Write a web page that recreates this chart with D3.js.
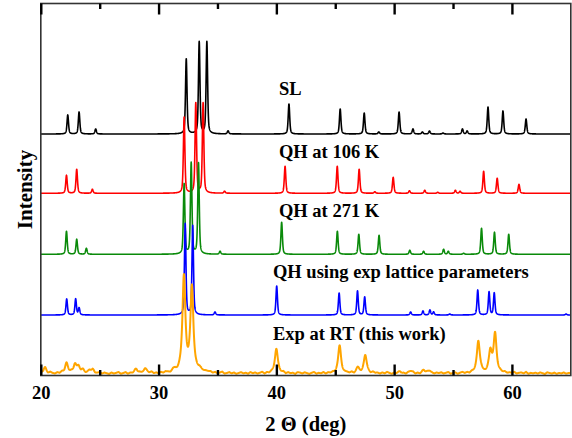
<!DOCTYPE html>
<html>
<head>
<meta charset="utf-8">
<script src="https://cdn.jsdelivr.net/npm/d3@7"></script>
<style>
  body { margin: 0; background: #fff; }
  text { font-family: "Liberation Serif", "Times New Roman", serif; font-weight: bold; }
</style>
</head>
<body>
<svg id="chart" width="572" height="438"></svg>
<script>
// ---- data ----------------------------------------------------------------
const xMajorTicks = [20, 30, 40, 50, 60];
const xMinorTicks = [25, 35, 45, 55];
const xLabel = "2 \u0398 (deg)";
const yLabel = "Intensity";

const seriesNames = ["SL", "QH at 106 K", "QH at 271 K", "QH using exp lattice parameters", "Exp at RT (this work)"];
const seriesColors = ["#000000", "#ff0000", "#0a8a0a", "#0000ff", "#ffa500"];
// vertical offset of each pattern (a.u.)
const seriesOffsets = [241.5, 182.2, 121.2, 60.5, 1.3];

// reflections: [2θ (deg), intensity (a.u.)]
const peaksSL = [
  [22.29, 19], [23.25, 22], [24.66, 5], [32.35, 75], [33.45, 92], [34.10, 92], [35.90, 3],
  [41.07, 30], [45.42, 25], [47.46, 21], [48.70, 2], [50.42, 22], [51.60, 5], [52.40, 2],
  [53.00, 3], [54.15, 1], [55.80, 5], [56.20, 3], [57.97, 27], [59.24, 23], [61.20, 15]
];
const peaksQH106 = [
  [22.18, 18], [23.05, 24], [24.38, 4], [32.17, 76], [33.16, 90], [33.78, 90], [35.60, 2],
  [40.74, 27], [45.17, 27], [47.03, 24], [48.36, 1.5], [49.92, 16], [51.30, 2.5], [52.60, 3],
  [53.70, 1], [55.20, 3], [55.60, 2], [57.60, 22], [58.75, 15], [60.60, 9]
];
const peaksQH271 = [
  [22.18, 23], [23.05, 15], [23.87, 6], [32.17, 70], [32.77, 91], [33.39, 91], [35.22, 3],
  [40.45, 32], [45.18, 23], [47.00, 20], [48.72, 19], [51.33, 4], [52.50, 3], [54.20, 5],
  [54.60, 3], [55.90, 1], [57.42, 26], [58.52, 22], [59.73, 20]
];
const peaksQHexp = [
  [22.20, 16], [22.96, 16], [23.25, 7], [32.26, 91], [32.90, 89], [34.79, 3],
  [40.03, 29], [45.33, 22], [46.89, 24], [47.50, 18], [51.40, 3], [52.45, 4], [53.04, 5],
  [53.35, 3], [54.72, 1], [57.10, 25], [58.06, 23], [58.50, 22], [64.60, 1]
];
// measured pattern: [2θ (deg), intensity (a.u.)]
const peaksExp = [
  [20.35, 6], [22.18, 10], [22.90, 9], [23.20, 5], [23.55, 3], [24.15, 3], [24.45, 2.5],
  [28.10, 4], [28.85, 5], [31.25, 2.5], [32.15, 95], [32.83, 84], [33.45, 3], [34.00, 2],
  [40.00, 25], [45.37, 27], [46.90, 5], [47.55, 18], [50.50, 1.5], [51.40, 2], [52.50, 3],
  [53.00, 2.5], [57.15, 32], [58.17, 21], [58.57, 38]
];
// measured background, every 0.2 deg from 20.0 to 65.0
const expBackgroundStart = 20, expBackgroundStep = 0.2;
const expBackground = [
  1.6,0.4,1.2,0.1,1.9,0.8,0.2,1.5,0.6,2.1,
  0.3,1.4,0.7,1.8,0.0,1.1,2.0,0.5,1.5,0.2,
  1.2,0.6,2.2,0.1,0.9,1.7,0.3,1.4,0.7,0.0,
  1.5,0.5,1.1,2.0,0.2,0.9,1.8,0.1,1.2,0.6,
  1.9,0.3,1.4,0.7,0.1,1.7,0.8,2.1,0.4,1.1,
  0.2,1.5,0.6,1.8,1.2,0.0,0.9,1.9,0.3,1.4,
  0.7,1.7,0.1,1.1,2.0,0.5,1.4,0.2,1.8,0.9,
  0.0,1.2,1.9,0.6,1.5,0.3,1.1,2.1,0.2,0.8,
  1.7,0.5,1.4,0.1,0.9,1.8,0.6,1.2,0.2,1.9,
  0.7,1.5,0.3,1.1,2.0,0.1,1.4,0.5,1.7,0.9,
  0.3,1.2,0.7,1.9,0.2,1.5,0.6,1.1,0.0,1.8,
  1.4,0.5,1.7,0.9,0.1,1.2,2.0,0.3,1.1,0.6,
  1.8,0.2,1.4,0.7,1.5,0.5,1.1,1.9,0.1,0.9,
  1.2,0.6,1.7,0.0,1.1,1.8,0.5,1.4,0.7,1.5,
  0.2,1.9,0.9,1.2,0.3,1.5,0.6,2.1,1.1,0.1,
  1.4,0.7,1.8,0.5,1.1,0.2,1.7,0.9,2.0,0.3,
  1.2,0.1,1.5,0.7,1.9,0.6,1.1,0.3,1.4,0.9,
  1.7,0.5,1.2,2.0,0.2,0.9,1.5,0.0,1.1,1.8,
  0.6,1.4,0.3,1.7,0.9,1.2,0.5,1.9,0.7,0.1,
  1.5,0.6,1.1,1.8,0.2,1.4,0.7,1.7,0.5,1.2,
  0.9,1.9,0.3,1.1,1.5,0.6,2.1,0.2,1.2,0.7,
  1.4,0.5,1.7,0.9,0.1,1.8,1.1,0.6,1.5,0.3,
  1.2,0.7,1.7,0.5,1.1,1.4
];

// ---- layout --------------------------------------------------------------
const W = 572, H = 438;
const plot = { left: 40.8, right: 570.8, top: 3.5, bottom: 375.5 };
const serif = '"Liberation Serif", "Times New Roman", serif';
const svg = d3.select("#chart");

const x = d3.scaleLinear().domain([20, 65]).range([plot.left, plot.right]);
const y = d3.scaleLinear().domain([0, 372]).range([plot.bottom, plot.top]);

// peak profile (pseudo-Voigt)
function profile(t, peaks, fwhm, eta) {
  let s = 0;
  const k = 4 / (fwhm * fwhm);
  for (const [c, h] of peaks) {
    const d2 = (t - c) * (t - c);
    s += h * (eta / (1 + k * d2) + (1 - eta) * Math.exp(-Math.LN2 * k * d2));
  }
  return s;
}
function background(t) {
  const u = (t - expBackgroundStart) / expBackgroundStep;
  const i = Math.max(0, Math.min(expBackground.length - 2, Math.floor(u)));
  const f = u - i;
  return expBackground[i] * (1 - f) + expBackground[i + 1] * f;
}

const allPeaks = [peaksSL, peaksQH106, peaksQH271, peaksQHexp, peaksExp];
const grid = d3.range(20, 65.0001, 0.01);

const traces = allPeaks.map((peaks, i) => {
  const isExp = i === 4;
  const ts = Array.from(new Set(grid.concat(peaks.map(p => p[0])))).sort((a, b) => a - b);
  return ts.map(t => [t, seriesOffsets[i] +
    (isExp ? profile(t, peaks, 0.3, 0.9) + background(t) : profile(t, peaks, 0.15, 0.5))]);
});

svg.append("defs").append("clipPath").attr("id", "plotClip")
  .append("rect")
  .attr("x", plot.left).attr("y", plot.top)
  .attr("width", plot.right - plot.left).attr("height", plot.bottom - plot.top);

const line = d3.line().x(d => x(d[0])).y(d => y(d[1]));

svg.append("g").attr("clip-path", "url(#plotClip)")
  .selectAll("path").data(traces).join("path")
  .attr("d", line)
  .attr("fill", "none")
  .attr("stroke", (d, i) => seriesColors[i])
  .attr("stroke-width", (d, i) => i === 4 ? 2 : 1.6)
  .attr("stroke-linejoin", "round");

// frame
svg.append("rect")
  .attr("x", plot.left).attr("y", plot.top)
  .attr("width", plot.right - plot.left).attr("height", plot.bottom - plot.top)
  .attr("fill", "none").attr("stroke", "#333").attr("stroke-width", 1.6);

// axes: inward ticks on bottom and top
function styleTicks(g) {
  g.select(".domain").remove();
  g.attr("font-family", serif).attr("font-weight", "bold");
  g.selectAll(".tick line").attr("stroke", "#000").attr("stroke-width", 2.4);
}
svg.append("g").attr("transform", `translate(0,${plot.bottom})`)
  .call(d3.axisBottom(x).tickValues(xMajorTicks).tickSize(-11).tickPadding(10.5).tickFormat(d3.format("d")))
  .call(styleTicks)
  .call(g => g.selectAll(".tick text")
    .attr("fill", "#000")
    .style("font-size", "18.5px").style("font-family", serif).style("font-weight", "bold"));
svg.append("g").attr("transform", `translate(0,${plot.bottom})`)
  .call(d3.axisBottom(x).tickValues(xMinorTicks).tickSize(-5.5).tickFormat(""))
  .call(styleTicks);
svg.append("g").attr("transform", `translate(0,${plot.top})`)
  .call(d3.axisTop(x).tickValues(xMajorTicks).tickSize(-11).tickFormat(""))
  .call(styleTicks);
svg.append("g").attr("transform", `translate(0,${plot.top})`)
  .call(d3.axisTop(x).tickValues(xMinorTicks).tickSize(-5.5).tickFormat(""))
  .call(styleTicks);

// axis titles
svg.append("text")
  .attr("x", (plot.left + plot.right) / 2).attr("y", 430.5)
  .attr("text-anchor", "middle").style("font-size", "20.5px")
  .text(xLabel);
svg.append("text")
  .attr("transform", `translate(31.7,${(plot.top + plot.bottom) / 2}) rotate(-90)`)
  .attr("text-anchor", "middle").style("font-size", "21px")
  .text(yLabel);

// pattern labels: anchor 2θ and gap above each baseline (px)
const labelAnchor = [[40.22, 39], [40.22, 35.5], [40.22, 37.5], [39.71, 37.5], [39.71, 34]];
svg.append("g").selectAll("text").data(seriesNames).join("text")
  .attr("x", (d, i) => x(labelAnchor[i][0]))
  .attr("y", (d, i) => y(seriesOffsets[i]) - labelAnchor[i][1])
  .style("font-size", "18.5px")
  .text(d => d);
</script>
</body>
</html>
